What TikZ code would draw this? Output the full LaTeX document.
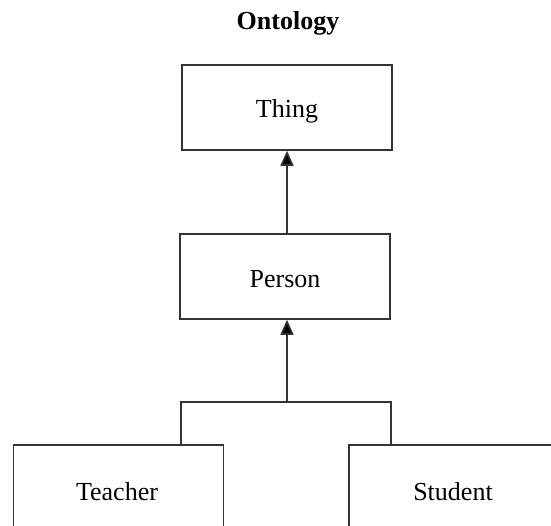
\documentclass[tikz,border=0pt]{standalone}
\usepackage{fontspec}
\setmainfont{Liberation Serif}
\usetikzlibrary{arrows.meta}
\begin{document}
\begin{tikzpicture}[x=1pt,y=-1pt,
  label font/.style={font=\fontsize{26}{30}\selectfont},
  box/.style={draw=black!80,line width=1.6pt,fill=white,inner sep=0pt},
  link/.style={draw=black!80,line width=1.6pt},
  isa/.style={link,-{Triangle[length=15pt,width=13pt,fill=black]}}]
  \useasboundingbox (0,0) rectangle (551,526);
  % title
  \node[font=\fontsize{26}{30}\bfseries\selectfont] (title) at (288,23) {Ontology};
  % class boxes
  \node[box,minimum width=210,minimum height=85] (thing) at (287,107.5) {};
  \node[label font] (thingtxt) at (287,111) {Thing};
  \node[box,minimum width=210,minimum height=85] (person) at (285,276.5) {};
  \node[label font] (persontxt) at (285,279) {Person};
  \node[box,minimum width=210,minimum height=100,anchor=north west] (teacher) at (12.5,444) {};
  \node[label font] (teachertxt) at (117,492) {Teacher};
  \node[box,minimum width=220,minimum height=100,anchor=north west] (student) at (348,444) {};
  \node[label font] (studenttxt) at (453,492) {Student};
  % junction of the subclass links
  \coordinate (join) at (287,402);
  \coordinate (tl) at (181,402);
  \coordinate (sl) at (391,402);
  % links
  \draw[isa] (person.north -| thing.south) -- (thing.south);
  \draw[isa] (join) -- (join |- person.south);
  \draw[link] (teacher.north -| tl) -- (tl) -- (sl) -- (student.north -| sl);
\end{tikzpicture}
\end{document}
